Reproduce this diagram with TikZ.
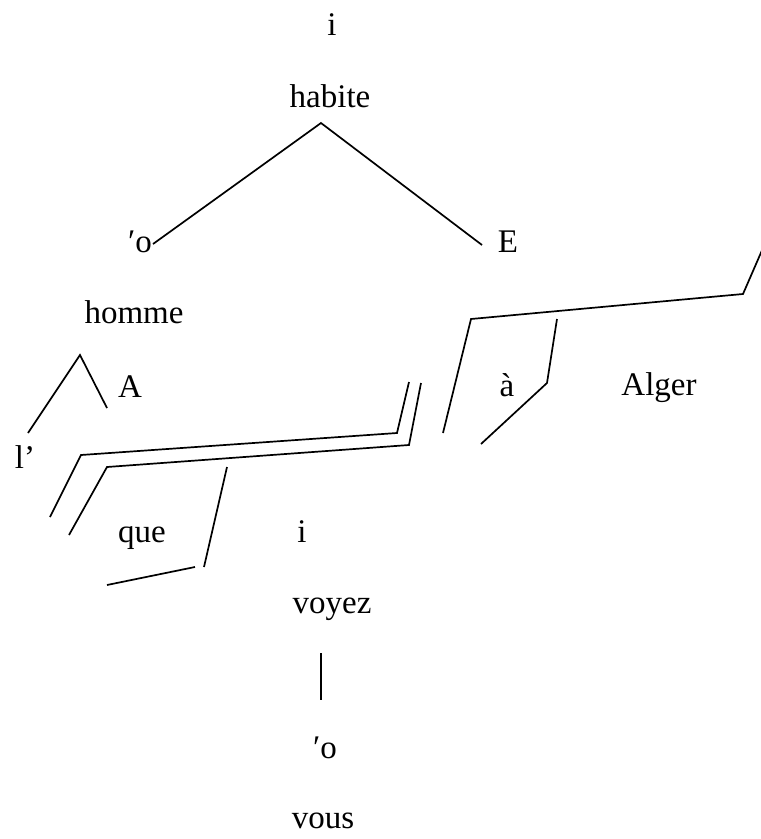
\documentclass[tikz,border=0pt]{standalone}
\usepackage{fontspec}
\setmainfont{Liberation Serif}
\usetikzlibrary{calc}

\begin{document}
\begin{tikzpicture}[x=1pt,y=-1pt,line width=1.7pt,
  word/.style={anchor=base,inner sep=0pt,font=\fontsize{33}{38}\selectfont}]
  \useasboundingbox (0,0) rectangle (761,839);
  % words
  \node[word] (itop)   at (332,35)  {i};
  \node[word] (habite) at (330,107) {habite};
  \node[word] (otop)   at (140,252) {′o};
  \node[word] (E)      at (508,252) {E};
  \node[word] (homme)  at (134,323) {homme};
  \node[word] (A)      at (130,397) {A};
  \node[word] (lapos)  at (25,468)  {l’};
  \node[word] (a)      at (507,396) {à};
  \node[word] (Alger)  at (659,395) {Alger};
  \node[word] (que)    at (142,542) {que};
  \node[word] (imid)   at (302,542) {i};
  \node[word] (voyez)  at (332,613) {voyez};
  \node[word] (obot)   at (325,758) {′o};
  \node[word] (vous)   at (323,828) {vous};
  % tree points
  \coordinate (top)  at (321,123);
  \coordinate (hl)   at (153,244);
  \coordinate (hr)   at (482,245);
  \coordinate (ht)   at (80,355);
  \coordinate (htl)  at (28,433);
  \coordinate (htr)  at (107,408);
  \coordinate (vt)   at (321,653);
  \coordinate (vb)   at (321,700);
  \draw (hl) -- (top) -- (hr);
  \draw (htl) -- (ht) -- (htr);
  \draw (vt) -- (vb);
  % brackets
  \draw (50,517) -- (81,455) -- (397,433) -- (409,382);
  \draw (69,535) -- (107,467) -- (409,445) -- (421,383);
  \draw (227,467) -- (204,567);
  \draw (195,567) -- (107,585);
  \draw (443,433) -- (471,319) -- (743,294) -- (763,248);
  \draw (557,319) -- (547,383) -- (481,444);
\end{tikzpicture}
\end{document}
